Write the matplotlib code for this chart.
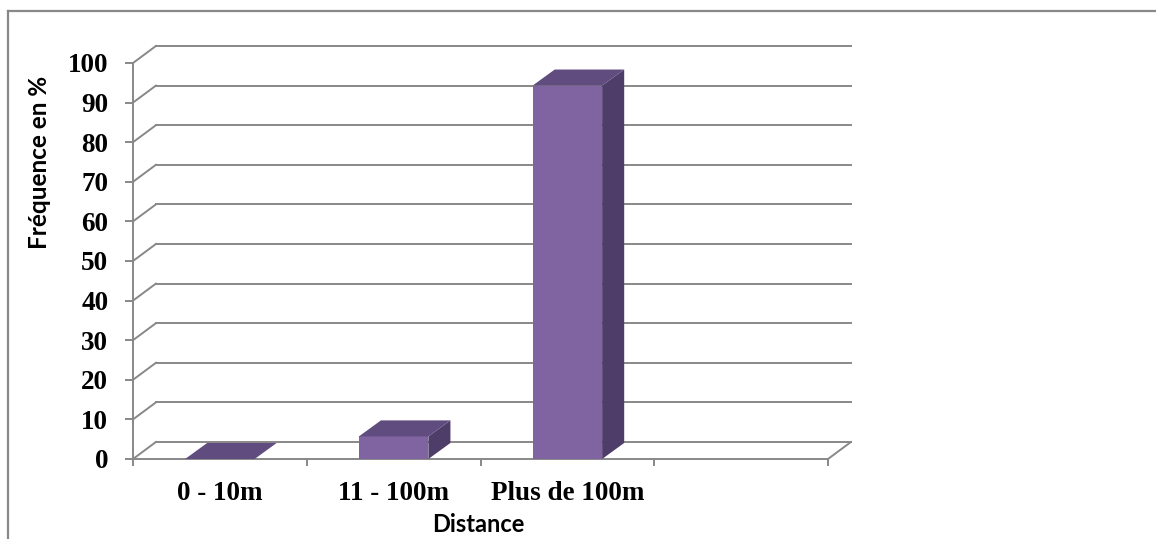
import matplotlib
matplotlib.use("Agg")
import matplotlib.pyplot as plt
from matplotlib.lines import Line2D
import numpy as np

# data
categories = ["0 - 10m", "11 - 100m", "Plus de 100m"]
frequence = [0.0, 5.7, 94.3]
y_ticks = list(range(0, 101, 10))
n_slots = 4  # the chart keeps an empty fourth slot on the right

FRONT = "#8064A2"
TOP = "#604C7E"
SIDE = "#4F3D69"
GRID = "#888888"

fig = plt.figure(figsize=(11.56, 5.39), dpi=100)
ax = fig.add_axes([133 / 1156, 80 / 539, 695 / 1156, 396 / 539])
ax.set_xlim(-0.5, n_slots - 0.5)
ax.set_ylim(0, 100)

# depth of the fake 3-D box, in data units
wall_dx, wall_dy = 0.132, 4.3
bar_dx, bar_dy = 0.127, 4.05
bar_w = 0.40

x0, x1 = -0.5, n_slots - 0.5

# back wall gridlines and side-wall diagonals
for v in y_ticks:
    ax.plot([x0 + wall_dx, x1 + wall_dx], [v + wall_dy, v + wall_dy],
            color=GRID, lw=1.4, clip_on=False, zorder=1)
    ax.plot([x0, x0 + wall_dx], [v, v + wall_dy],
            color=GRID, lw=1.4, clip_on=False, zorder=1)
# right edge of the floor
ax.plot([x1, x1 + wall_dx], [0, wall_dy], color=GRID, lw=1.4,
        clip_on=False, zorder=1)

# bars
xs = np.arange(len(categories))
for x, v in zip(xs, frequence):
    l, r = x - bar_w / 2, x + bar_w / 2
    if v > 0:
        ax.fill([r, r + bar_dx, r + bar_dx, r], [0, bar_dy, v + bar_dy, v],
                color=SIDE, lw=0, zorder=3, clip_on=False)
        ax.bar(x, v, width=bar_w, color=FRONT, lw=0, zorder=4, clip_on=False)
    ax.fill([l, r, r + bar_dx, l + bar_dx], [v, v, v + bar_dy, v + bar_dy],
            color=TOP, lw=0, zorder=5, clip_on=False)

# axes styling
for s in ["top", "right"]:
    ax.spines[s].set_visible(False)
for s in ["left", "bottom"]:
    ax.spines[s].set_color(GRID)
    ax.spines[s].set_linewidth(1.4)
    ax.spines[s].set_zorder(2)

ax.set_yticks(y_ticks)
ax.tick_params(axis="y", direction="out", length=5.8, width=1.4,
               color=GRID, pad=12)
ax.set_yticklabels([str(t) for t in y_ticks], fontfamily="Liberation Serif",
                   fontweight="bold", fontsize=19.5)

ax.set_xticks(np.arange(n_slots + 1) - 0.5)
ax.set_xticklabels([])
ax.tick_params(axis="x", which="major", direction="out", length=5,
               width=1.4, color=GRID)
ax.set_xticks(xs, minor=True)
ax.set_xticklabels(categories, minor=True, fontfamily="Liberation Serif",
                   fontweight="bold", fontsize=19.5)
ax.tick_params(axis="x", which="minor", length=0, pad=16)

ax.set_xlabel("Distance", fontfamily="Lato", fontweight="bold", fontsize=17)
ax.xaxis.set_label_coords((478 - 133) / 695, (459 - 525) / 396)
ax.xaxis.label.set_va("center")
ax.set_ylabel("Fréquence en %", fontfamily="Lato", fontweight="bold",
              fontsize=17.5)
ax.yaxis.set_label_coords((40 - 133) / 695, (459 - 162) / 396)
ax.yaxis.label.set_va("center")

# chart frame (only top and left edges show in the crop)
fig.add_artist(Line2D([8 / 1156, 1], [1 - 11 / 539, 1 - 11 / 539],
                      color=GRID, lw=1.6))
fig.add_artist(Line2D([8 / 1156, 8 / 1156], [0, 1 - 11 / 539],
                      color=GRID, lw=1.6))

fig.savefig("out.png", dpi=100)
